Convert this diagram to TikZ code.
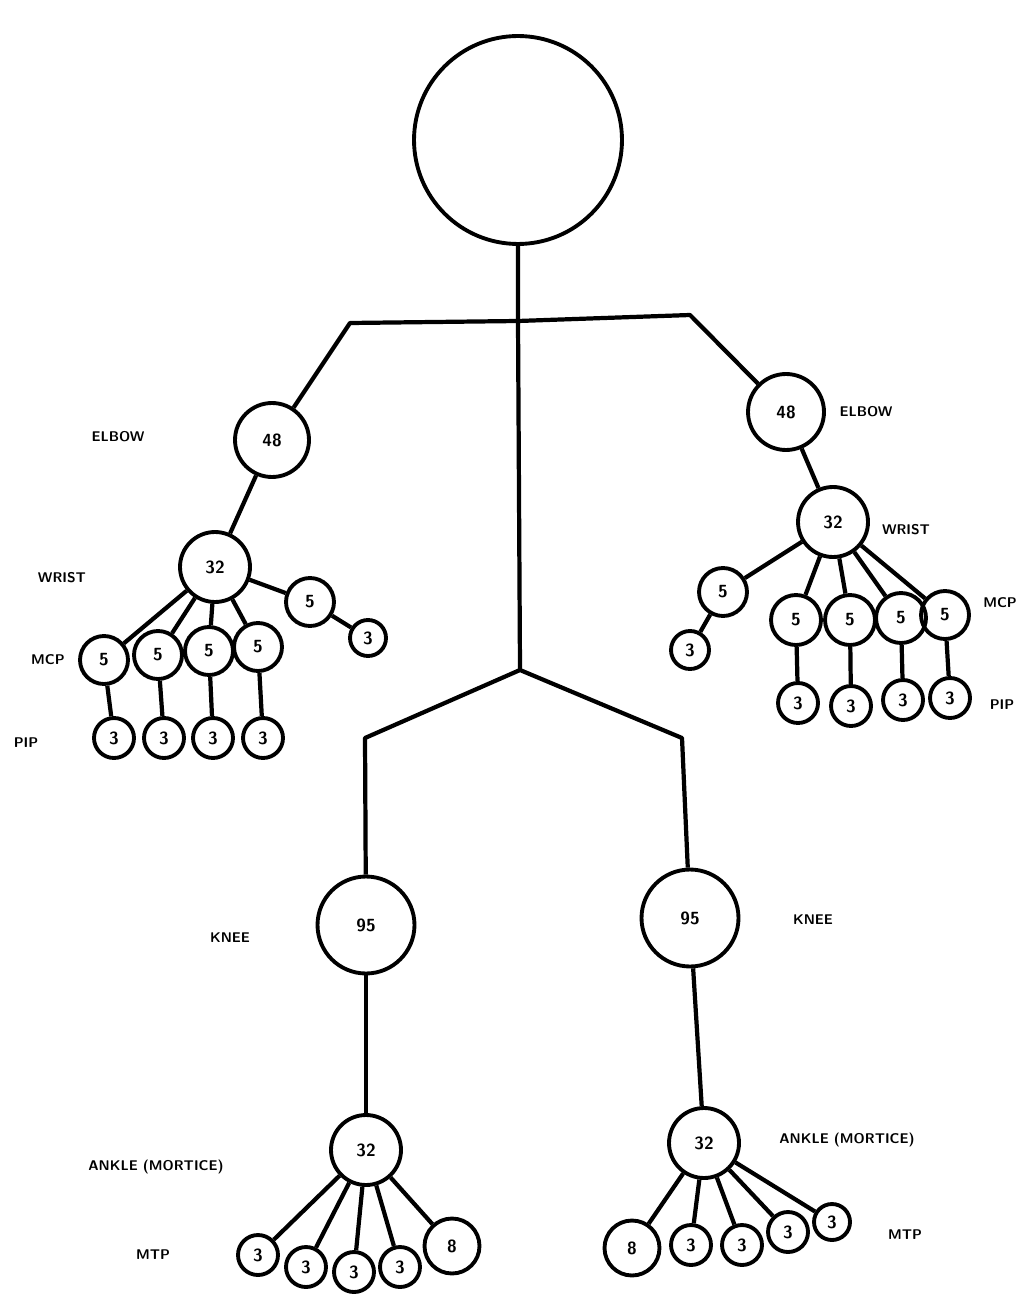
\documentclass[tikz,border=0pt]{standalone}
\usepackage{tikz}
\usetikzlibrary{positioning}

\begin{document}
\begin{tikzpicture}[x=0.02cm, y=-0.02cm,
    joint/.style={draw, circle, line width=2.2pt, inner sep=0pt, minimum size=#1, font=\sffamily\bfseries},
    lbl/.style={font=\sffamily\bfseries\footnotesize},
    bone/.style={line width=2.4pt, line join=round}]
    \useasboundingbox (0,0) rectangle (1017,1300);

    % Head and trunk
    \node[joint=4.16cm] (head) at (518,140) {};
    \coordinate (neck) at (518,321);
    \coordinate (lsh) at (350,323);
    \coordinate (rsh) at (690,315);
    \coordinate (hip) at (520,670);
    \coordinate (lhip) at (365,738);
    \coordinate (rhip) at (682,738);

    % Elbows and wrists
    \node[joint=1.48cm] (lelbow) at (272,440) {48};
    \node[joint=1.52cm] (relbow) at (786,412) {48};
    \node[joint=1.4cm] (lwrist) at (215,567) {32};
    \node[joint=1.4cm] (rwrist) at (833,522) {32};

    % Left hand
    \node[joint=0.96cm] (lmcp1) at (104,660) {5};
    \node[joint=0.96cm] (lmcp2) at (158,655) {5};
    \node[joint=0.96cm] (lmcp3) at (209,651) {5};
    \node[joint=0.96cm] (lmcp4) at (258,647) {5};
    \node[joint=0.96cm] (lthumb) at (310,602) {5};
    \node[joint=0.72cm] (lthumbip) at (368,638) {3};
    \node[joint=0.8cm] (lpip1) at (114,738) {3};
    \node[joint=0.8cm] (lpip2) at (164,738) {3};
    \node[joint=0.8cm] (lpip3) at (213,738) {3};
    \node[joint=0.8cm] (lpip4) at (263,738) {3};

    % Right hand
    \node[joint=0.96cm] (rthumb) at (723,592) {5};
    \node[joint=0.76cm] (rthumbip) at (690,650) {3};
    \node[joint=1.0cm] (rmcp1) at (796,620) {5};
    \node[joint=1.0cm] (rmcp2) at (850,620) {5};
    \node[joint=1.0cm] (rmcp3) at (901,618) {5};
    \node[joint=0.96cm] (rmcp4) at (945,615) {5};
    \node[joint=0.8cm] (rpip1) at (798,703) {3};
    \node[joint=0.8cm] (rpip2) at (851,706) {3};
    \node[joint=0.8cm] (rpip3) at (903,700) {3};
    \node[joint=0.8cm] (rpip4) at (950,698) {3};

    % Knees and ankles
    \node[joint=1.94cm] (lknee) at (366,925) {95};
    \node[joint=1.94cm] (rknee) at (690,918) {95};
    \node[joint=1.4cm] (lankle) at (366,1150) {32};
    \node[joint=1.4cm] (rankle) at (704,1143) {32};

    % Left foot
    \node[joint=0.8cm] (lmtp1) at (258,1255) {3};
    \node[joint=0.8cm] (lmtp2) at (306,1267) {3};
    \node[joint=0.8cm] (lmtp3) at (354,1272) {3};
    \node[joint=0.8cm] (lmtp4) at (400,1267) {3};
    \node[joint=1.1cm] (lmtp5) at (452,1246) {8};

    % Right foot
    \node[joint=1.1cm] (rmtp1) at (632,1248) {8};
    \node[joint=0.8cm] (rmtp2) at (691,1245) {3};
    \node[joint=0.8cm] (rmtp3) at (742,1245) {3};
    \node[joint=0.8cm] (rmtp4) at (788,1232) {3};
    \node[joint=0.72cm] (rmtp5) at (832,1222) {3};

    % Labels
    \node[lbl] (lelbowl) at (118,437) {ELBOW};
    \node[lbl] (relbowl) at (866,412) {ELBOW};
    \node[lbl] (lwristl) at (62,578) {WRIST};
    \node[lbl] (rwristl) at (906,530) {WRIST};
    \node[lbl] (lmcpl) at (48,660) {MCP};
    \node[lbl] (rmcpl) at (1000,603) {MCP};
    \node[lbl] (lpipl) at (26,743) {PIP};
    \node[lbl] (rpipl) at (1002,705) {PIP};
    \node[lbl] (lkneel) at (230,938) {KNEE};
    \node[lbl] (rkneel) at (813,920) {KNEE};
    \node[lbl] (lanklel) at (156,1167) {ANKLE (MORTICE)};
    \node[lbl] (ranklel) at (847,1140) {ANKLE (MORTICE)};
    \node[lbl] (lmtpl) at (153,1255) {MTP};
    \node[lbl] (rmtpl) at (905,1235) {MTP};

    % Trunk lines
    \draw[bone] (head) -- (neck) -- (hip);
    \draw[bone] (lelbow) -- (lsh) -- (neck) -- (rsh) -- (relbow);
    \draw[bone] (lknee) -- (lhip) -- (hip) -- (rhip) -- (rknee);
    \draw[bone] (lknee) -- (lankle);
    \draw[bone] (rknee) -- (rankle);

    % Limb lines
    \draw[bone] (lelbow) -- (lwrist);
    \draw[bone] (relbow) -- (rwrist);
    \foreach \n in {lmcp1,lmcp2,lmcp3,lmcp4,lthumb}
        \draw[bone] (lwrist) -- (\n);
    \draw[bone] (lthumb) -- (lthumbip);
    \foreach \i in {1,...,4}
        \draw[bone] (lmcp\i) -- (lpip\i);
    \foreach \n in {rmcp1,rmcp2,rmcp3,rmcp4,rthumb}
        \draw[bone] (rwrist) -- (\n);
    \draw[bone] (rthumb) -- (rthumbip);
    \foreach \i in {1,...,4}
        \draw[bone] (rmcp\i) -- (rpip\i);
    \foreach \i in {1,...,5} {
        \draw[bone] (lankle) -- (lmtp\i);
        \draw[bone] (rankle) -- (rmtp\i);
    }
\end{tikzpicture}
\end{document}
